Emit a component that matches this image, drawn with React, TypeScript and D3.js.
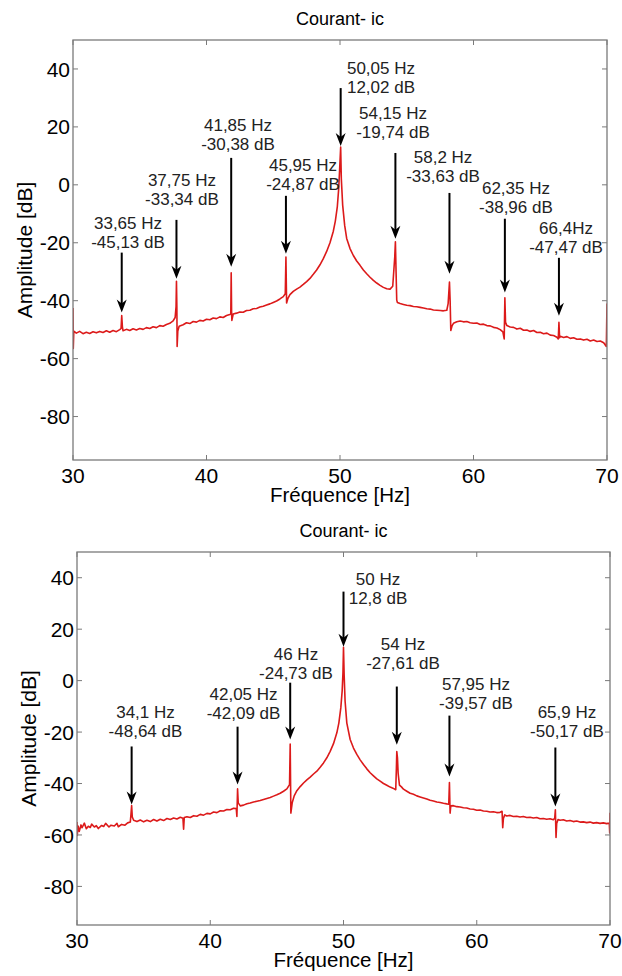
import * as d3 from 'd3'

const FREQ_DOMAIN = [30, 70]
const AMP_DOMAIN = [-95, 50]
const FREQ_TICKS = [30, 40, 50, 60, 70]
const AMP_TICKS = [-80, -60, -40, -20, 0, 20, 40]
const TITLE = 'Courant- ic'
const X_LABEL = 'Fréquence [Hz]'
const Y_LABEL = 'Amplitude [dB]'

const spectrumTop: [number, number][] = [
  [30.0, -42.5], [30.02, -56.5], [30.06, -50.5], [30.25, -51.2], [30.5, -50.6], [30.75, -51.4],
  [31.0, -50.9], [31.25, -51.3], [31.5, -50.7], [31.75, -51.1], [32.0, -50.6], [32.25, -51.0],
  [32.5, -50.4], [32.75, -50.9], [33.0, -50.3], [33.25, -50.7], [33.5, -50.0], [33.6, -49.6],
  [33.65, -45.1], [33.7, -49.0], [33.75, -50.4], [34.0, -49.9], [34.25, -50.3], [34.5, -49.7],
  [34.75, -50.1], [35.0, -49.6], [35.25, -49.9], [35.5, -49.3], [35.75, -49.6], [36.0, -49.0],
  [36.25, -49.3], [36.5, -48.6], [36.75, -48.8], [37.0, -48.2], [37.25, -47.8], [37.5, -47.0],
  [37.65, -45.8], [37.72, -42.0], [37.75, -33.3], [37.78, -42.0], [37.8, -55.8], [37.85, -50.5],
  [37.95, -48.8], [38.25, -48.3], [38.5, -47.6], [38.75, -47.9], [39.0, -47.2], [39.25, -47.4],
  [39.5, -46.8], [39.75, -47.0], [40.0, -46.4], [40.25, -46.6], [40.5, -46.0], [40.75, -46.2],
  [41.0, -45.6], [41.25, -45.8], [41.5, -45.1], [41.75, -44.8], [41.82, -44.5], [41.85, -30.4],
  [41.88, -44.0], [41.9, -46.8], [42.0, -44.6], [42.25, -44.3], [42.5, -43.9], [42.75, -44.0],
  [43.0, -43.4], [43.25, -43.3], [43.5, -42.8], [43.75, -42.7], [44.0, -42.2], [44.25, -41.9],
  [44.5, -41.5], [44.75, -41.1], [45.0, -40.6], [45.25, -40.1], [45.5, -39.4], [45.75, -38.6],
  [45.9, -37.6], [45.95, -24.9], [46.0, -40.8], [46.1, -39.2], [46.25, -37.9], [46.5, -36.8],
  [46.75, -36.0], [47.0, -35.3], [47.25, -34.4], [47.5, -33.4], [47.75, -32.3], [48.0, -30.9],
  [48.25, -29.4], [48.5, -27.6], [48.75, -25.5], [49.0, -23.0], [49.25, -20.0], [49.5, -16.0],
  [49.65, -12.5], [49.8, -7.5], [49.9, -1.5], [49.97, 5.0], [50.05, 13.0], [50.1, 2.0],
  [50.2, -7.0], [50.35, -14.0], [50.5, -18.5], [50.75, -22.0], [51.0, -24.4], [51.25, -26.3],
  [51.5, -27.8], [51.75, -29.4], [52.0, -30.7], [52.25, -31.9], [52.5, -33.0], [52.75, -33.9],
  [53.0, -34.7], [53.25, -35.4], [53.5, -35.9], [53.75, -36.0], [53.95, -35.0], [54.1, -25.0],
  [54.15, -19.7], [54.2, -30.0], [54.25, -39.8], [54.3, -40.6], [54.5, -41.0], [54.75, -41.3],
  [55.0, -41.6], [55.25, -41.7], [55.5, -42.0], [55.75, -42.1], [56.0, -42.3], [56.25, -42.5],
  [56.5, -42.8], [56.75, -42.9], [57.0, -43.2], [57.25, -43.3], [57.5, -43.4], [57.75, -43.5],
  [58.0, -43.3], [58.1, -41.0], [58.2, -33.6], [58.25, -40.0], [58.3, -50.3], [58.4, -48.6],
  [58.5, -47.8], [58.75, -47.3], [59.0, -47.0], [59.25, -47.3], [59.5, -47.2], [59.75, -47.6],
  [60.0, -47.8], [60.25, -47.7], [60.5, -48.2], [60.75, -48.1], [61.0, -48.6], [61.25, -48.7],
  [61.5, -49.2], [61.75, -49.4], [62.0, -50.0], [62.2, -50.8], [62.3, -53.2], [62.35, -39.0],
  [62.4, -47.5], [62.5, -48.6], [62.75, -49.1], [63.0, -49.2], [63.25, -49.8], [63.5, -49.5],
  [63.75, -50.2], [64.0, -50.1], [64.25, -50.6], [64.5, -50.3], [64.75, -51.0], [65.0, -50.9],
  [65.25, -51.4], [65.5, -51.2], [65.75, -51.9], [66.0, -52.0], [66.25, -52.6], [66.35, -53.2],
  [66.4, -47.5], [66.45, -52.8], [66.5, -52.3], [66.75, -52.7], [67.0, -52.4], [67.25, -53.0],
  [67.5, -52.8], [67.75, -53.3], [68.0, -53.2], [68.25, -53.6], [68.5, -53.3], [68.75, -53.9],
  [69.0, -53.6], [69.25, -54.1], [69.5, -53.9], [69.75, -54.5], [69.95, -55.8], [70.0, -41.0],
]

// second measurement
const spectrumBottom: [number, number][] = [
  [30.0, -55.0], [30.02, -60.2], [30.08, -56.5], [30.17, -58.6], [30.3, -56.1], [30.38, -57.2],
  [30.55, -55.4], [30.7, -57.6], [30.85, -56.6], [31.0, -57.1], [31.1, -55.8], [31.3, -56.9],
  [31.45, -56.4], [31.6, -57.5], [31.85, -56.3], [32.0, -56.7], [32.15, -55.5], [32.4, -56.9],
  [32.55, -56.2], [32.8, -56.5], [33.0, -55.5], [33.1, -56.8], [33.35, -55.9], [33.6, -56.2],
  [33.8, -55.3], [34.0, -55.0], [34.05, -52.0], [34.1, -48.6], [34.15, -53.0], [34.25, -54.3],
  [34.5, -54.8], [34.75, -54.2], [35.0, -54.9], [35.25, -54.3], [35.5, -54.8], [35.75, -54.0],
  [36.0, -54.6], [36.25, -53.9], [36.5, -54.4], [36.75, -53.6], [37.0, -54.0], [37.25, -53.4],
  [37.5, -53.8], [37.75, -53.1], [37.95, -53.5], [38.0, -57.8], [38.05, -53.2], [38.25, -52.9],
  [38.5, -53.2], [38.75, -52.5], [39.0, -52.7], [39.25, -52.0], [39.5, -52.3], [39.75, -51.6],
  [40.0, -51.8], [40.25, -51.1], [40.5, -51.3], [40.75, -50.6], [41.0, -50.7], [41.25, -50.1],
  [41.5, -50.2], [41.75, -49.6], [41.95, -49.7], [42.0, -52.8], [42.05, -42.1], [42.1, -47.5],
  [42.25, -48.7], [42.5, -48.4], [42.75, -47.9], [43.0, -47.6], [43.25, -47.2], [43.5, -46.9],
  [43.75, -46.6], [44.0, -46.2], [44.25, -45.8], [44.5, -45.4], [44.75, -44.9], [45.0, -44.4],
  [45.25, -43.8], [45.5, -43.0], [45.75, -42.1], [45.95, -40.4], [46.0, -24.7], [46.05, -51.5],
  [46.15, -47.5], [46.3, -44.8], [46.5, -42.8], [46.75, -41.2], [47.0, -39.8], [47.25, -38.6],
  [47.5, -37.5], [47.75, -36.3], [48.0, -35.2], [48.25, -33.7], [48.5, -32.0], [48.75, -30.0],
  [49.0, -27.5], [49.25, -24.5], [49.5, -20.3], [49.65, -16.5], [49.8, -10.5], [49.9, -4.0],
  [49.96, 3.0], [50.0, 13.0], [50.05, 2.0], [50.12, -8.0], [50.25, -16.5], [50.5, -22.9],
  [50.75, -26.2], [51.0, -28.7], [51.25, -30.8], [51.5, -32.6], [51.75, -34.3], [52.0, -35.8],
  [52.25, -37.0], [52.5, -38.2], [52.75, -39.1], [53.0, -40.0], [53.25, -40.7], [53.5, -41.4],
  [53.75, -41.9], [53.92, -42.4], [53.97, -34.0], [54.0, -27.6], [54.05, -30.0], [54.1, -36.0],
  [54.2, -40.6], [54.35, -41.3], [54.5, -42.2], [54.75, -43.0], [55.0, -43.8], [55.25, -44.2],
  [55.5, -44.8], [55.75, -45.2], [56.0, -45.6], [56.25, -46.0], [56.5, -46.5], [56.75, -46.8],
  [57.0, -47.2], [57.25, -47.4], [57.5, -47.7], [57.75, -47.9], [57.9, -48.0], [57.95, -39.6],
  [58.0, -51.5], [58.05, -48.7], [58.25, -48.6], [58.5, -49.0], [58.75, -49.1], [59.0, -49.4],
  [59.25, -49.5], [59.5, -49.9], [59.75, -50.0], [60.0, -50.4], [60.25, -50.3], [60.5, -50.7],
  [60.75, -50.8], [61.0, -51.1], [61.25, -51.0], [61.5, -51.3], [61.75, -51.2], [61.9, -50.8],
  [61.95, -57.2], [62.0, -53.6], [62.1, -52.2], [62.25, -52.6], [62.5, -52.4], [62.75, -52.8],
  [63.0, -52.7], [63.25, -53.0], [63.5, -52.8], [63.75, -53.2], [64.0, -53.1], [64.25, -53.4],
  [64.5, -53.2], [64.75, -53.7], [65.0, -53.6], [65.25, -53.9], [65.5, -53.7], [65.75, -54.1],
  [65.85, -53.5], [65.9, -50.2], [65.95, -61.0], [66.0, -55.5], [66.1, -54.0], [66.25, -54.3],
  [66.5, -54.1], [66.75, -54.6], [67.0, -54.4], [67.25, -54.8], [67.5, -54.6], [67.75, -55.0],
  [68.0, -54.9], [68.25, -55.2], [68.5, -55.0], [68.75, -55.4], [69.0, -55.2], [69.25, -55.5],
  [69.5, -55.3], [69.75, -55.6], [69.95, -55.4], [69.98, -59.2], [70.0, -51.4],
]

// arrow annotations: peak freq, arrow tip / tail in dB, text anchor in data units
type Marker = { hz: number; tip: number; tail: number; lines: string[]; textHz: number; textDb: number }

const markersTop: Marker[] = [
  { hz: 33.65, tip: -44.1, tail: -23.4, lines: ['33,65 Hz', '-45,13 dB'], textHz: 34.12, textDb: -15.2 },
  { hz: 37.75, tip: -32.4, tail: -12.1, lines: ['37,75 Hz', '-33,34 dB'], textHz: 38.16, textDb: -0.3 },
  { hz: 41.85, tip: -28.3, tail: 9.3, lines: ['41,85 Hz', '-30,38 dB'], textHz: 42.36, textDb: 18.6 },
  { hz: 45.95, tip: -23.8, tail: -3.8, lines: ['45,95 Hz', '-24,87 dB'], textHz: 47.23, textDb: 4.8 },
  { hz: 50.05, tip: 13.4, tail: 33.4, lines: ['50,05 Hz', '12,02 dB'], textHz: 53.07, textDb: 38.3 },
  { hz: 54.15, tip: -18.6, tail: 11.0, lines: ['54,15 Hz', '-19,74 dB'], textHz: 53.97, textDb: 22.8 },
  { hz: 58.2, tip: -30.7, tail: -2.8, lines: ['58,2 Hz', '-33,63 dB'], textHz: 57.72, textDb: 7.6 },
  { hz: 62.35, tip: -37.2, tail: -11.7, lines: ['62,35 Hz', '-38,96 dB'], textHz: 63.18, textDb: -3.1 },
  { hz: 66.4, tip: -45.2, tail: -25.2, lines: ['66,4Hz', '-47,47 dB'], textHz: 66.93, textDb: -16.9 },
]

const markersBottom: Marker[] = [
  { hz: 34.1, tip: -48.2, tail: -25.6, lines: ['34,1 Hz', '-48,64 dB'], textHz: 35.14, textDb: -14.4 },
  { hz: 42.05, tip: -40.4, tail: -17.9, lines: ['42,05 Hz', '-42,09 dB'], textHz: 42.5, textDb: -7.4 },
  { hz: 46.0, tip: -22.9, tail: -0.8, lines: ['46 Hz', '-24,73 dB'], textHz: 46.43, textDb: 8.2 },
  { hz: 50.0, tip: 13.2, tail: 34.6, lines: ['50 Hz', '12,8 dB'], textHz: 52.59, textDb: 37.3 },
  { hz: 54.0, tip: -24.9, tail: -2.3, lines: ['54 Hz', '-27,61 dB'], textHz: 54.47, textDb: 12.0 },
  { hz: 57.95, tip: -37.3, tail: -13.6, lines: ['57,95 Hz', '-39,57 dB'], textHz: 59.94, textDb: -3.5 },
  { hz: 65.9, tip: -48.9, tail: -26.0, lines: ['65,9 Hz', '-50,17 dB'], textHz: 66.77, textDb: -14.4 },
]

const FONT = 'Liberation Sans, Arial, Helvetica, sans-serif'
const RED = '#dc1a1a'
const AXIS = '#7a7a7a'

type PanelProps = {
  id: string
  data: [number, number][]
  markers: Marker[]
  left: number
  right: number
  top: number
  bottom: number
}

function Panel({ id, data, markers, left, right, top, bottom }: PanelProps) {
  const x = d3.scaleLinear().domain(FREQ_DOMAIN).range([left, right])
  const y = d3.scaleLinear().domain(AMP_DOMAIN).range([bottom, top])
  const line = d3.line<[number, number]>().x((d) => x(d[0])).y((d) => y(d[1]))
  const tk = 5
  const cx = (left + right) / 2
  const cy = (top + bottom) / 2

  return (
    <g fontFamily={FONT}>
      <defs>
        <clipPath id={id}>
          <rect x={left} y={top} width={right - left} height={bottom - top} />
        </clipPath>
      </defs>
      <text x={cx} y={top - 15} textAnchor="middle" fontSize={18}>{TITLE}</text>

      <path d={line(data) ?? ''} fill="none" stroke={RED} strokeWidth={1.6} strokeLinejoin="round" clipPath={`url(#${id})`} />

      <rect x={left} y={top} width={right - left} height={bottom - top} fill="none" stroke={AXIS} strokeWidth={1.3} />
      {FREQ_TICKS.map((t) => (
        <g key={'x' + t}>
          <line x1={x(t)} x2={x(t)} y1={bottom} y2={bottom - tk} stroke={AXIS} />
          <line x1={x(t)} x2={x(t)} y1={top} y2={top + tk} stroke={AXIS} />
          <text x={x(t)} y={bottom + 23} textAnchor="middle" fontSize={21}>{t}</text>
        </g>
      ))}
      {AMP_TICKS.map((t) => (
        <g key={'y' + t}>
          <line x1={left} x2={left + tk} y1={y(t)} y2={y(t)} stroke={AXIS} />
          <line x1={right} x2={right - tk} y1={y(t)} y2={y(t)} stroke={AXIS} />
          <text x={left - 3} y={y(t)} dy="0.36em" textAnchor="end" fontSize={21}>{t}</text>
        </g>
      ))}
      <text x={cx} y={bottom + 42} textAnchor="middle" fontSize={20.5}>{X_LABEL}</text>
      <text transform={`translate(${left - 41},${cy}) rotate(-90)`} textAnchor="middle" fontSize={21}>{Y_LABEL}</text>

      {markers.map((m) => {
        const ax = x(m.hz)
        const y0 = y(m.tail)
        const y1 = y(m.tip)
        return (
          <g key={m.lines[0]}>
            <line x1={ax} x2={ax} y1={y0} y2={y1 - 8} stroke="#000" strokeWidth={2} />
            <path d={`M${ax},${y1} L${ax - 5},${y1 - 13} L${ax},${y1 - 9} L${ax + 5},${y1 - 13} Z`} fill="#000" />
            {m.lines.map((s, i) => (
              <text key={i} x={x(m.textHz)} y={y(m.textDb) + i * 19} textAnchor="middle" fontSize={17} fill="#222">{s}</text>
            ))}
          </g>
        )
      })}
    </g>
  )
}

export default function App() {
  return (
    <svg width={622} height={976} style={{ position: 'absolute', left: 0, top: 0, background: '#fff' }}>
      <rect width={622} height={976} fill="#fff" />
      <Panel id="clipTop" data={spectrumTop} markers={markersTop} left={73} right={607} top={40} bottom={460} />
      <Panel id="clipBottom" data={spectrumBottom} markers={markersBottom} left={77} right={610} top={552} bottom={925} />
    </svg>
  )
}
